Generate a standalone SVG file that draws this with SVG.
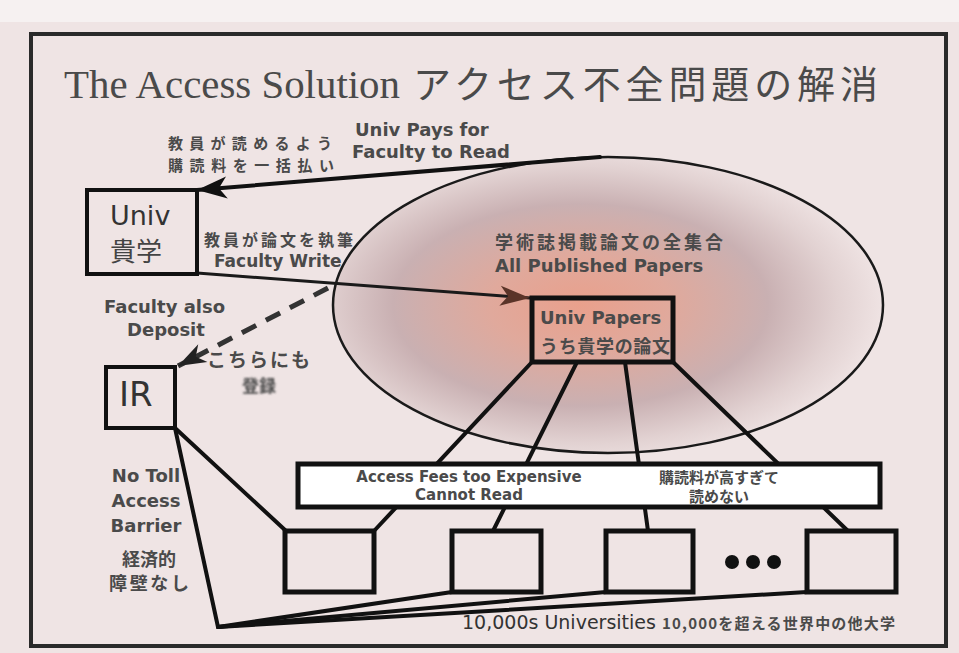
<svg xmlns="http://www.w3.org/2000/svg" width="959" height="653" viewBox="0 0 959 653">
<style>
.frame{fill:none;stroke:#2a2a2a;stroke-width:4}
.box{fill:none;stroke:#111;stroke-width:5}
.ln{fill:none;stroke:#111;stroke-width:4;stroke-linecap:round}
.en{font-family:"DejaVu Sans","Noto Sans CJK JP",sans-serif;font-weight:bold;fill:#4a4a4a}
.jp{font-family:"Noto Sans CJK JP",sans-serif;font-weight:bold;fill:#4a4a4a}
.reg{font-family:"DejaVu Sans","Noto Sans CJK JP",sans-serif;fill:#333}
</style>
<defs>
<radialGradient id="ell" cx="0.45" cy="0.5" r="0.55">
<stop offset="0" stop-color="#e9a08c"/>
<stop offset="0.3" stop-color="#e0a99c"/>
<stop offset="0.62" stop-color="#c9b0b2"/>
<stop offset="0.85" stop-color="#e2d2d2"/>
<stop offset="1" stop-color="#efe3e3"/>
</radialGradient>
<marker id="ahBlack" markerUnits="userSpaceOnUse" markerWidth="40" markerHeight="30" refX="0" refY="0" viewBox="-32 -15 40 30" orient="auto">
<path d="M0,0 L-30,-11 L-22,0 L-30,11 Z" fill="#111"/>
</marker>
<marker id="ahBrown" markerUnits="userSpaceOnUse" markerWidth="40" markerHeight="30" refX="0" refY="0" viewBox="-32 -15 40 30" orient="auto">
<path d="M0,0 L-30,-10 L-22,0 L-30,10 Z" fill="#5a3428"/>
</marker>
<marker id="ahDash" markerUnits="userSpaceOnUse" markerWidth="40" markerHeight="30" refX="0" refY="0" viewBox="-32 -15 40 30" orient="auto">
<path d="M0,0 L-28,-10 L-20,0 L-28,10 Z" fill="#222"/>
</marker>
<filter id="blur" x="-20%" y="-50%" width="140%" height="200%"><feGaussianBlur stdDeviation="1.3"/></filter>
</defs>

<rect x="0" y="0" width="959" height="653" fill="#efe4e4"/>
<rect x="0" y="0" width="959" height="22" fill="#f6f1f1"/>
<rect class="frame" x="31" y="34" width="915" height="612"/>

<g id="title">
<text x="64" y="98" font-family="'Liberation Serif',serif" font-size="40" fill="#4a4a4a" textLength="336" lengthAdjust="spacingAndGlyphs">The Access Solution</text>
<text x="413" y="98" font-family="'Noto Sans CJK JP',sans-serif" font-size="38" fill="#4a4a4a" textLength="465">アクセス不全問題の解消</text>
</g>

<g id="all-papers">
<ellipse cx="608" cy="305" rx="275" ry="148" fill="url(#ell)" stroke="#1a1a1a" stroke-width="2.5"/>
<text x="495" y="249" class="jp" font-size="18" textLength="228">学術誌掲載論文の全集合</text>
<text x="495" y="272" class="en" font-size="18">All Published Papers</text>
</g>

<g id="connectors">
<line class="ln" x1="600" y1="157" x2="197" y2="190" stroke-width="3.5" marker-end="url(#ahBlack)"/>
<line x1="197" y1="273" x2="530" y2="298" stroke="#1a1a1a" stroke-width="3" marker-end="url(#ahBrown)"/>
<line x1="328" y1="288" x2="178" y2="366" stroke="#333" stroke-width="5" stroke-dasharray="16 11" marker-end="url(#ahDash)"/>
<line class="ln" x1="532" y1="362" x2="374" y2="531"/>
<line class="ln" x1="577" y1="362" x2="493" y2="531"/>
<line class="ln" x1="625" y1="362" x2="648" y2="531"/>
<line class="ln" x1="673" y1="362" x2="848" y2="531"/>
<line class="ln" x1="175" y1="428" x2="285" y2="530"/>
<line class="ln" x1="175" y1="428" x2="218" y2="627"/>
<line class="ln" x1="218" y1="627" x2="452" y2="592"/>
<line class="ln" x1="218" y1="627" x2="606" y2="592"/>
<line class="ln" x1="218" y1="627" x2="807" y2="592"/>
</g>

<g id="labels">
<text x="355" y="136" class="en" font-size="18">Univ Pays for</text>
<text x="352" y="158" class="en" font-size="18">Faculty to Read</text>
<text x="168" y="149" class="jp" font-size="15" textLength="164">教員が読めるよう</text>
<text x="168" y="171" class="jp" font-size="15" textLength="166">購読料を一括払い</text>
<text x="204" y="246" class="jp" font-size="16" fill="#555" textLength="149">教員が論文を執筆</text>
<text x="214" y="267" class="en" font-size="17">Faculty Write</text>
<text x="104" y="313" class="en" font-size="18">Faculty also</text>
<text x="127" y="336" class="en" font-size="18">Deposit</text>
<text x="207" y="367" class="jp" font-size="19" font-weight="normal" fill="#555" textLength="103">こちらにも</text>
<text x="242" y="392" class="jp" font-size="17" fill="#8a8a8a" filter="url(#blur)">登録</text>
<text x="146" y="482" class="en" font-size="18" text-anchor="middle">No Toll</text>
<text x="146" y="507" class="en" font-size="18" text-anchor="middle">Access</text>
<text x="146" y="532" class="en" font-size="18" text-anchor="middle">Barrier</text>
<text x="149" y="566" class="jp" font-size="18" fill="#555" text-anchor="middle">経済的</text>
<text x="149" y="590" class="jp" font-size="18" fill="#555" text-anchor="middle" textLength="80">障壁なし</text>
<text x="462" y="629" class="reg" font-size="19">10,000s Universities</text>
<text x="662" y="629" class="jp" font-size="15" fill="#333" textLength="233">10,000を超える世界中の他大学</text>
</g>

<g id="univ">
<rect x="87" y="190" width="110" height="84" fill="none" stroke="#111" stroke-width="4"/>
<text x="110" y="225" class="reg" font-size="27">Univ</text>
<text x="110" y="261" font-family="'Noto Sans CJK JP',sans-serif" font-size="26" fill="#444">貴学</text>
</g>

<g id="ir">
<rect x="106" y="367" width="69" height="61" fill="none" stroke="#111" stroke-width="4"/>
<text x="119" y="406" class="reg" font-size="34">IR</text>
</g>

<g id="univ-papers">
<rect class="box" x="532" y="298" width="141" height="64"/>
<text x="540" y="324" class="en" font-size="18" fill="#3d3d3d">Univ Papers</text>
<text x="540" y="353" class="jp" font-size="18" fill="#3d3d3d" textLength="130">うち貴学の論文</text>
</g>

<g id="access-fees">
<rect x="298" y="464" width="582" height="43" fill="#fff" stroke="#111" stroke-width="5"/>
<text x="469" y="482" class="en" font-size="15" fill="#333" text-anchor="middle">Access Fees too Expensive</text>
<text x="469" y="500" class="en" font-size="15" fill="#333" text-anchor="middle">Cannot Read</text>
<text x="719" y="483" class="jp" font-size="15" fill="#333" text-anchor="middle">購読料が高すぎて</text>
<text x="719" y="502" class="jp" font-size="15" fill="#333" text-anchor="middle">読めない</text>
</g>

<g id="uni1"><rect class="box" x="285" y="531" width="89" height="61"/></g>
<g id="uni2"><rect class="box" x="452" y="531" width="89" height="61"/></g>
<g id="uni3"><rect class="box" x="606" y="531" width="87" height="61"/></g>
<g id="uni-more">
<circle cx="732" cy="562" r="7" fill="#111"/>
<circle cx="753" cy="562" r="7" fill="#111"/>
<circle cx="774" cy="562" r="7" fill="#111"/>
</g>
<g id="uni4"><rect class="box" x="807" y="531" width="89" height="61"/></g>
</svg>
